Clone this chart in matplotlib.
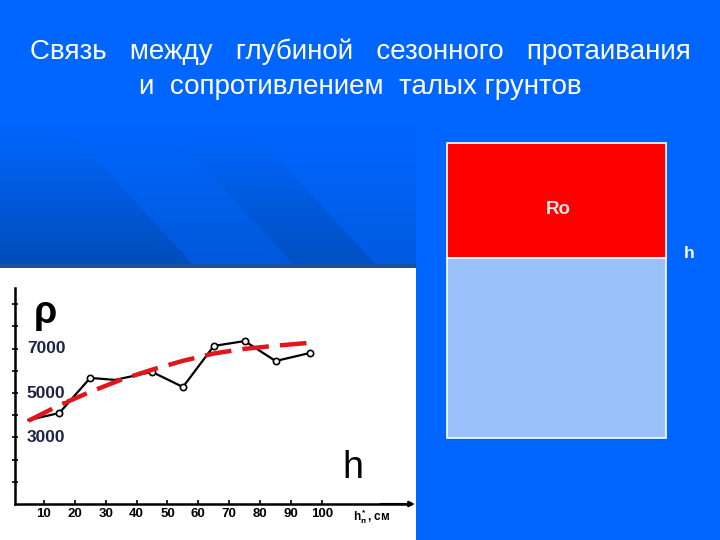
import numpy as np
import matplotlib
matplotlib.use("Agg")
import matplotlib.pyplot as plt
from matplotlib.patches import Rectangle

plt.rcParams['font.family'] = ['Liberation Sans', 'DejaVu Sans']

# ---- data ----
title_line1 = "Связь   между   глубиной   сезонного   протаивания"
title_line2 = "и  сопротивлением  талых грунтов"
h_cm = [5, 15, 25, 33, 45, 55, 65, 75, 85, 96]
rho_obs = [3780, 4100, 5680, 5590, 5950, 5270, 7120, 7340, 6440, 6800]
trend_h = [5, 15, 25, 35, 45, 55, 65, 75, 85, 95]
trend_rho = [3750, 4450, 5050, 5600, 6050, 6450, 6780, 6990, 7130, 7250]
x_ticks = [10, 20, 30, 40, 50, 60, 70, 80, 90, 100]
y_labels = [7000, 5000, 3000]
box_labels = ["Ro", "h"]

W, H = 720, 540
fig = plt.figure(figsize=(7.2, 5.4), dpi=100)

# ---- background (slide) ----
bg = fig.add_axes([0, 0, 1, 1])
bg.set_xlim(0, W)
bg.set_ylim(H, 0)
bg.axis('off')
yy, xx = np.mgrid[0:H, 0:W]
base = np.array([0.0, 0.40, 1.0])
dark = np.array([0.0, 0.30, 0.72])
t = np.clip((yy - 125) / 145.0, 0, 1)
d = xx - (yy - 130) * 0.92
band = np.where(d < 69, 1.0,
        np.where(d < 170, 0.55,
        np.where(d < 252, 0.9, 0.45)))
mask = (xx < 416) & (yy < 270)
amt = t * band * mask
img = base[None, None, :] * (1 - amt[..., None]) + dark[None, None, :] * amt[..., None]
strip = (xx < 416) & (yy >= 264) & (yy < 270)
img[strip] = np.array([0.10, 0.32, 0.62])
bg.imshow(img, extent=[0, W, H, 0], aspect='auto', zorder=0)

# white panel with the scanned chart
bg.add_patch(Rectangle((0, 268), 416, 272, facecolor='white', edgecolor='none', zorder=1))

# right-side box
bg.add_patch(Rectangle((447, 143), 219, 115, facecolor='#ff0000', edgecolor='white', lw=1.2, zorder=2))
bg.add_patch(Rectangle((447, 258), 219, 180, facecolor='#9bc1fa', edgecolor='white', lw=1.2, zorder=2))
bg.text(558, 209, box_labels[0], color='#f6e4e4', fontsize=13.5, fontweight='bold',
        ha='center', va='center', zorder=3)
bg.text(689, 254, box_labels[1], color='white', fontsize=12.5, fontweight='bold',
        ha='center', va='center', zorder=3)

# title
bg.text(360, 52, title_line1, color='white', fontsize=20, ha='center', va='center', zorder=3)
bg.text(360, 87, title_line2, color='white', fontsize=20, ha='center', va='center', zorder=3)

# ---- data axes ----
ax = fig.add_axes([15 / W, 36 / H, (410 - 15) / W, (504 - 288) / H])
ax.patch.set_alpha(0)
ax.set_xlim(0.65, 128.5)
ax.set_ylim(0, 9730)
for s in ['top', 'right']:
    ax.spines[s].set_visible(False)
for s in ['left', 'bottom']:
    ax.spines[s].set_linewidth(1.8)
    ax.spines[s].set_color('black')
ax.set_xticks(x_ticks)
ax.set_xticklabels([str(v) for v in x_ticks], fontsize=9.5, fontweight='bold', fontstretch='condensed')
ax.tick_params(axis='x', length=3, width=1.2, pad=3, direction='in')
ax.set_yticks(np.arange(1000, 9001, 1000))
ax.set_yticklabels([])
ax.tick_params(axis='y', length=4, width=1.2, direction='inout')

ax.plot(h_cm, rho_obs, color='black', lw=1.6, marker='o', ms=4.5, mfc='white', mec='black',
        mew=1.2, markevery=[1, 2, 4, 5, 6, 7, 8, 9], zorder=3)
ax.plot(trend_h, trend_rho, color='#e0161b', lw=3.2, dashes=(6, 2.5), zorder=4)

# axis arrow
ax.annotate('', xy=(131, 0), xytext=(118, 0), xycoords='data',
            arrowprops=dict(arrowstyle='-|>', color='black', lw=1.5, mutation_scale=8),
            annotation_clip=False)

for v in y_labels:
    ax.text(4.5, v, str(v), color='#1c2244', fontsize=12.5, fontweight='bold',
            ha='left', va='center', zorder=5,
            bbox=dict(facecolor='white', edgecolor='none', pad=0.5, alpha=0.85))

ax.text(10.5, 8600, 'ρ', color='black', fontsize=27, fontweight='bold', ha='center', va='center')
ax.text(110, 1640, 'h', color='black', fontsize=27, ha='center', va='center')
ax.text(116, -560, r'$\mathregular{h_п^*}$, см', color='black', fontsize=8.5, fontweight='bold',
        ha='center', va='center')

fig.savefig('out.png', dpi=100)
